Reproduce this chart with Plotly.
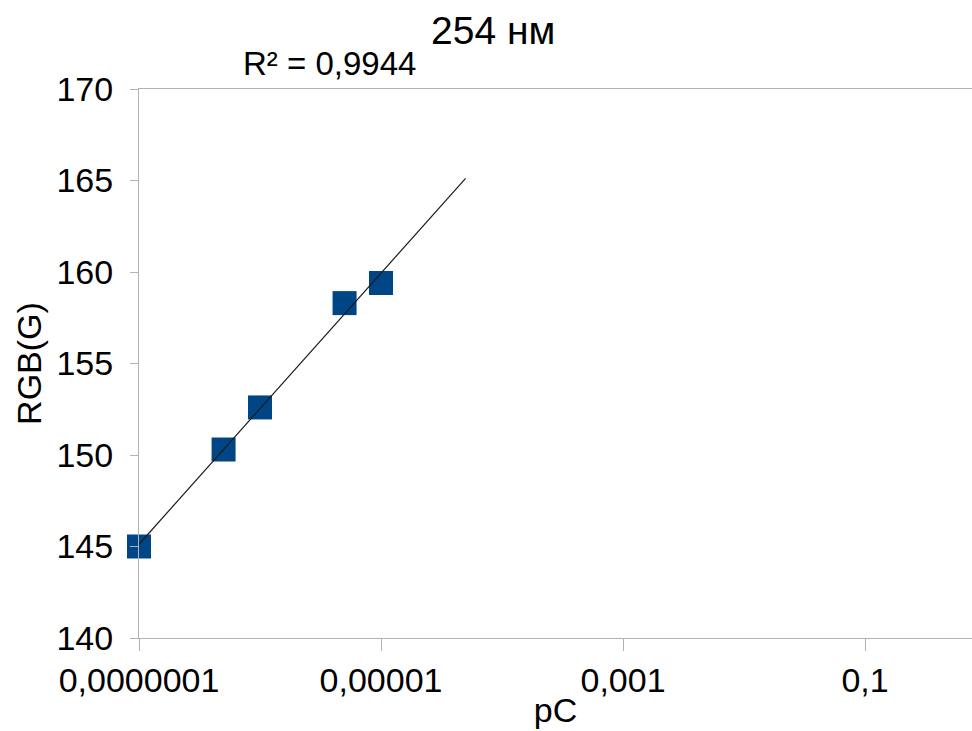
import numpy as np
import plotly.graph_objects as go

# Data
conc = [1e-7, 5e-7, 1e-6, 5e-6, 1e-5]
rgb_g = [145.0, 150.3, 152.6, 158.3, 159.4]
trend_extent = [1e-7, 5e-5]
r2_label = "R² = 0,9944"
title_text = "254 нм"
xtick_vals = [1e-7, 1e-5, 1e-3, 1e-1]
xtick_text = ["0,0000001", "0,00001", "0,001", "0,1"]
ytick_vals = [140, 145, 150, 155, 160, 165, 170]

# Linear trend on log10(x)
slope, intercept = np.polyfit(np.log10(conc), rgb_g, 1)
tx = np.array(trend_extent)
ty = slope * np.log10(tx) + intercept

FONT = "Liberation Sans, Arial, sans-serif"
W, H = 972, 731
L, R, T, B = 139, 0, 89, 93
TICK = 34

fig = go.Figure()
fig.add_trace(go.Scatter(x=conc, y=rgb_g, mode="markers",
                         marker=dict(symbol="square", size=24, color="#004586",
                                     line=dict(width=0)),
                         showlegend=False, cliponaxis=False))
fig.add_trace(go.Scatter(x=tx, y=ty, mode="lines",
                         line=dict(color="#1a1a1a", width=1.2), showlegend=False,
                         hoverinfo="skip", cliponaxis=False))

fig.update_layout(
    width=W, height=H,
    margin=dict(l=L, r=R, t=T, b=B, pad=0),
    paper_bgcolor="white", plot_bgcolor="white",
    font=dict(family=FONT, size=TICK, color="black"),
    showlegend=False,
    xaxis=dict(type="log", range=[-7, -0.116], tickvals=xtick_vals, ticktext=xtick_text,
               showgrid=False, zeroline=False, showline=True, linecolor="#b3b3b3",
               linewidth=1, mirror=True, ticks="outside", ticklen=12, tickcolor="#b3b3b3",
               tickfont=dict(size=TICK, family=FONT),
               title=dict(text="pC", font=dict(size=TICK, family=FONT), standoff=0)),
    yaxis=dict(range=[140, 170], tickvals=ytick_vals, showgrid=False, zeroline=False,
               showline=True, linecolor="#b3b3b3", linewidth=1,
               ticks="outside", ticklen=8, tickcolor="#b3b3b3",
               ticklabelstandoff=10,
               tickfont=dict(size=TICK, family=FONT),
               title=dict(text="RGB(G)", font=dict(size=TICK, family=FONT), standoff=4)),
    annotations=[
        dict(text=title_text, xref="paper", yref="paper",
             x=(493 - L) / (W - L - R), y=(H - B - 31) / (H - T - B),
             showarrow=False, xanchor="center", yanchor="middle",
             font=dict(size=39, family=FONT)),
        dict(text=r2_label, xref="paper", yref="paper",
             x=(329 - L) / (W - L - R), y=(H - B - 63) / (H - T - B),
             showarrow=False, xanchor="center", yanchor="middle",
             font=dict(size=33, family=FONT)),
    ],
)

fig.write_html("out.html")
